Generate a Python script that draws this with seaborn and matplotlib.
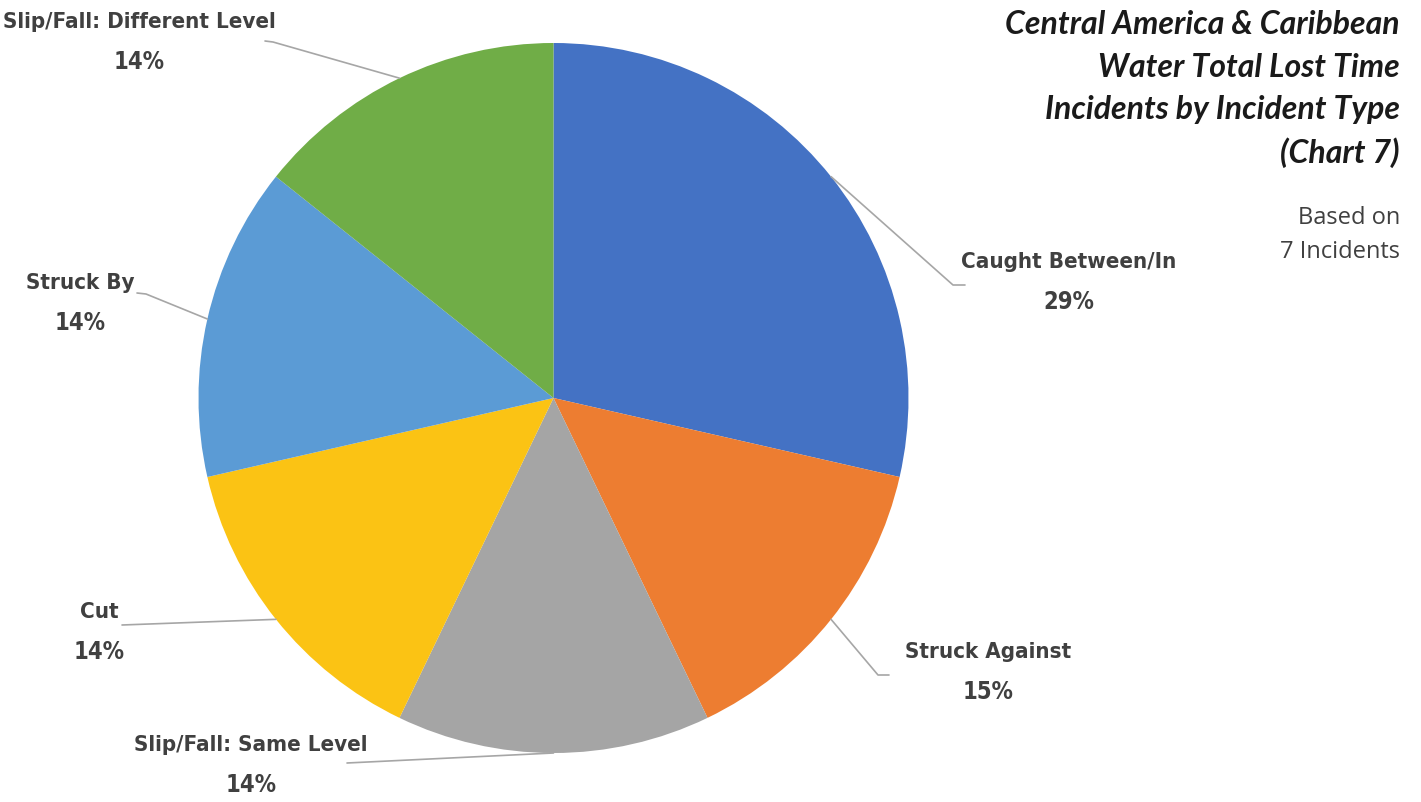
import numpy as np
import matplotlib.pyplot as plt
import seaborn as sns

# ======= data =======
categories = ['Caught Between/In', 'Struck Against', 'Slip/Fall: Same Level',
              'Cut', 'Struck By', 'Slip/Fall: Different Level']
incidents = [2, 1, 1, 1, 1, 1]
pct_labels = ['29%', '15%', '14%', '14%', '14%', '14%']
colors = ['#4472C4', '#ED7D31', '#A5A5A5', '#FBC314', '#5B9BD5', '#70AD47']

# ======= style =======
sns.set_theme(style="white")
plt.rcParams['font.family'] = ['DejaVu Sans']
label_font = ['Liberation Sans Narrow', 'DejaVu Sans']
title_font = ['Lato', 'DejaVu Sans']
sub_font = ['Open Sans', 'DejaVu Sans']
txt_color = '#404040'
line_color = '#A6A6A6'

W, H = 1421, 802
fig = plt.figure(figsize=(W / 100, H / 100), dpi=100)
ax = fig.add_axes([0, 0, 1, 1])

cx, cy, r = 553.5, 398, 355

# pie drawn in a y-down frame: counterclock=True appears clockwise on screen
wedges, _ = ax.pie(incidents, colors=colors, startangle=-90, counterclock=True,
                   center=(cx, cy), radius=r, frame=True,
                   wedgeprops=dict(linewidth=0))
ax.set_xlim(0, W)
ax.set_ylim(H, 0)
ax.axis('off')

# label layout (pixels): elbow point, end of horizontal tail, text centre
layout = [
    dict(elbow=(953, 285), end=(965, 285), text=(1069, 262)),
    dict(elbow=(878, 675), end=(889, 675), text=(988, 652)),
    dict(elbow=(347, 763), end=(347, 763), text=(251, 745)),
    dict(elbow=(122, 625), end=(122, 625), text=(99, 612)),
    dict(elbow=(146, 294), end=(137, 293), text=(80, 283)),
    dict(elbow=(273, 42), end=(265, 41), text=(139, 22)),
]

for w, cat, pl, lay in zip(wedges, categories, pct_labels, layout):
    ang = np.deg2rad((w.theta1 + w.theta2) / 2)
    ax_, ay_ = cx + r * np.cos(ang), cy + r * np.sin(ang)
    ex, ey = lay['elbow']
    tx, ty = lay['end']
    ax.plot([ax_, ex, tx], [ay_, ey, ty], color=line_color, lw=1.2, zorder=1)
    x, y = lay['text']
    ax.text(x, y, cat, ha='center', va='center', fontsize=16, fontweight='bold',
            fontstretch='condensed', family=label_font, color=txt_color)
    ax.text(x, y + 40, pl, ha='center', va='center', fontsize=17, fontweight='bold',
            fontstretch='condensed', family=label_font, color=txt_color)

# ======= title =======
title_lines = ['Central America & Caribbean', 'Water Total Lost Time',
               'Incidents by Incident Type', '(Chart 7)']
for i, t in enumerate(title_lines):
    ax.text(1400, 25 + i * 42.5, t, ha='right', va='center', fontsize=23,
            fontweight='bold', fontstyle='italic',
            family=title_font, color='#1a1a1a')

sub_lines = ['Based on', '7 Incidents']
for i, t in enumerate(sub_lines):
    ax.text(1400, 218 + i * 34, t, ha='right', va='center', fontsize=17,
            fontstretch='normal', family=sub_font, color=txt_color)

fig.savefig('out.png', dpi=100)
plt.close(fig)
